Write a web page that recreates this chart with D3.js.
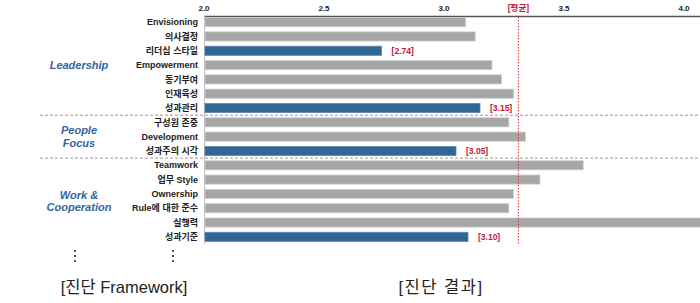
<!DOCTYPE html>
<html>
<head>
<meta charset="utf-8">
<script src="https://cdn.jsdelivr.net/npm/d3@7"></script>
<style>
  body { margin: 0; background: #fff; }
  text { font-family: "Liberation Sans", Arial, "Noto Sans CJK KR", sans-serif; }
</style>
</head>
<body>
<script>
  // chart data
  var items = ["Envisioning", "의사결정", "리더십 스타일", "Empowerment", "동기부여", "인재육성", "성과관리",
               "구성원 존중", "Development", "성과주의 시각",
               "Teamwork", "업무 Style", "Ownership", "Rule에 대한 준수", "실행력", "성과기준"];
  var scores = [3.09, 3.13, 2.74, 3.20, 3.24, 3.29, 3.15,
                3.27, 3.34, 3.05,
                3.58, 3.40, 3.29, 3.27, 4.10, 3.10];
  var highlighted = [2, 6, 9, 15];   // blue bars, with value label
  var groups = [["Leadership"], ["People", "Focus"], ["Work &", "Cooperation"]];
  var groupRows = [[0, 6], [7, 9], [10, 15]];
  var ticks = [2.0, 2.5, 3.0, 3.5, 4.0];
  var average = 3.31;

  var width = 700, height = 303;

  var svg = d3.select("body").append("svg")
      .attr("width", width)
      .attr("height", height);

  var x = d3.scaleLinear().domain([2.0, 4.0]).range([204, 684]);
  var y = d3.scaleBand().domain(items).range([15, 244])
      .paddingInner(0.36).paddingOuter(0.18);

  var mid = function(name) { return y(name) + y.bandwidth() / 2; };

  // tick labels on top
  svg.selectAll(".tick-label").data(ticks).enter()
    .append("text")
      .attr("x", function(d) { return x(d); })
      .attr("y", 11)
      .attr("text-anchor", "middle")
      .attr("font-size", 8)
      .attr("font-weight", "bold")
      .attr("fill", "#222")
      .text(function(d) { return d.toFixed(1); });

  // top axis line
  svg.append("line")
    .attr("x1", x(2.0)).attr("x2", width)
    .attr("y1", 16.5).attr("y2", 16.5)
    .attr("stroke", "#555").attr("stroke-width", 1.3);

  // left axis line
  svg.append("line")
    .attr("x1", x(2.0) + 0.5).attr("x2", x(2.0) + 0.5)
    .attr("y1", 16).attr("y2", 244)
    .attr("stroke", "#bbb").attr("stroke-width", 1);

  // bars
  svg.selectAll(".bar").data(items).enter()
    .append("rect")
      .attr("x", x(2.0) + 1)
      .attr("y", function(d) { return y(d); })
      .attr("width", function(d, i) { return x(scores[i]) - x(2.0) - 1; })
      .attr("height", y.bandwidth())
      .attr("fill", function(d, i) { return highlighted.indexOf(i) >= 0 ? "#336595" : "#a6a6a6"; })
      .attr("stroke", function(d, i) { return highlighted.indexOf(i) >= 0 ? "#5f88b0" : "#cfcfcf"; })
      .attr("stroke-width", 0.8);

  // value labels
  svg.selectAll(".val").data(highlighted).enter()
    .append("text")
      .attr("x", function(i) { return x(scores[i]) + 10; })
      .attr("y", function(i) { return mid(items[i]) + 3; })
      .attr("font-size", 8.5)
      .attr("font-weight", "bold")
      .attr("fill", "#c0143c")
      .text(function(i) { return "[" + scores[i].toFixed(2) + "]"; });

  // row labels
  svg.selectAll(".row-label").data(items).enter()
    .append("text")
      .attr("x", 198)
      .attr("y", function(d) { return mid(d) + 3.2; })
      .attr("text-anchor", "end")
      .attr("font-size", 9)
      .attr("font-weight", "bold")
      .attr("fill", "#222")
      .text(function(d) { return d; });

  // average line
  svg.append("line")
    .attr("x1", x(average)).attr("x2", x(average))
    .attr("y1", 17).attr("y2", 244)
    .attr("stroke", "#e0303c").attr("stroke-width", 1)
    .attr("stroke-dasharray", "1.5,1.5");

  svg.append("text")
    .attr("x", x(average))
    .attr("y", 11)
    .attr("text-anchor", "middle")
    .attr("font-size", 8.5)
    .attr("font-weight", "bold")
    .attr("fill", "#c0143c")
    .text("[평균]");

  // group separators
  [[6, 7], [9, 10]].forEach(function(p) {
    var sy = (mid(items[p[0]]) + mid(items[p[1]])) / 2;
    svg.append("line")
      .attr("x1", 40).attr("x2", width)
      .attr("y1", sy).attr("y2", sy)
      .attr("stroke", "#999").attr("stroke-width", 1)
      .attr("stroke-dasharray", "3,2");
  });

  // group labels
  groups.forEach(function(lines, g) {
    var cy = (mid(items[groupRows[g][0]]) + mid(items[groupRows[g][1]])) / 2;
    var lh = 12.5;
    var top = cy - (lines.length - 1) * lh / 2;
    lines.forEach(function(t, k) {
      svg.append("text")
        .attr("x", 79)
        .attr("y", top + k * lh + 4)
        .attr("text-anchor", "middle")
        .attr("font-size", 11)
        .attr("font-weight", "bold")
        .attr("font-style", "italic")
        .attr("fill", "#3265a0")
        .text(t);
    });
  });

  // vertical ellipsis marks
  [75, 173].forEach(function(cx) {
    [251, 256, 261].forEach(function(cy) {
      svg.append("circle").attr("cx", cx).attr("cy", cy).attr("r", 1.1).attr("fill", "#333");
    });
  });

  // bottom captions
  svg.append("text")
    .attr("x", 124).attr("y", 293)
    .attr("text-anchor", "middle")
    .attr("font-family", "'Noto Sans CJK KR', sans-serif")
    .attr("font-size", 16.5)
    .attr("fill", "#222")
    .text("[진단 Framework]");

  svg.append("text")
    .attr("x", 441).attr("y", 293)
    .attr("text-anchor", "middle")
    .attr("font-family", "'Noto Sans CJK KR', sans-serif")
    .attr("font-size", 16.5)
    .attr("letter-spacing", 1.5)
    .attr("fill", "#222")
    .text("[진단 결과]");
</script>
</body>
</html>
